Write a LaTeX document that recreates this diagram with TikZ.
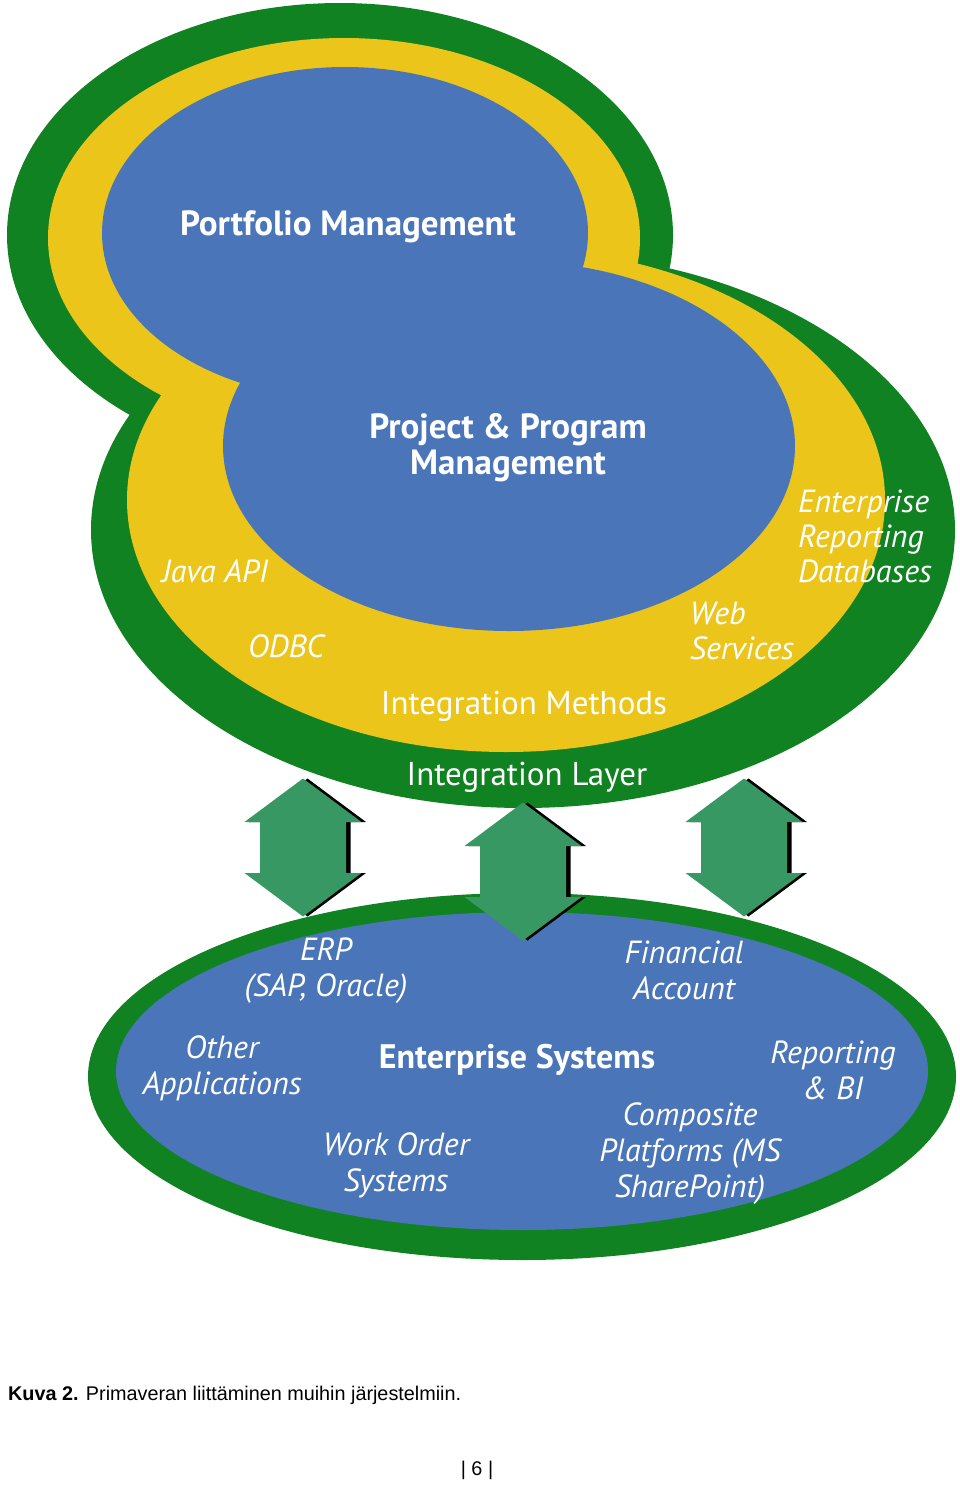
\documentclass[tikz,border=0pt]{standalone}
\usepackage{fontspec}
\setmainfont{PT Sans}
\newfontfamily\capfont{Liberation Sans}
\usetikzlibrary{positioning}

\definecolor{ringgreen}{RGB}{16,130,34}
\definecolor{ringyellow}{RGB}{236,197,26}
\definecolor{coreblue}{RGB}{74,118,185}
\definecolor{arrowgreen}{RGB}{56,152,100}

\tikzset{
  title/.style={text=white, font=\bfseries\fontsize{35}{36}\selectfont, align=center, inner sep=0pt},
  band/.style={text=white, font=\fontsize{33}{34}\selectfont, inner sep=0pt},
  method/.style={text=white, font=\itshape\fontsize{32}{35}\selectfont, inner sep=0pt},
  system/.style={text=white, font=\itshape\fontsize{32}{36}\selectfont, align=center, inner sep=0pt},
  linkarrow/.pic={
    \fill[black, xshift=4.5pt] (0,-69) -- (58.5,-25.5) -- (43,-25.5) -- (43,25.5) -- (58.5,25.5)
      -- (0,69) -- (-58.5,25.5) -- (-43,25.5) -- (-43,-25.5) -- (-58.5,-25.5) -- cycle;
    \fill[arrowgreen] (0,-69) -- (58.5,-25.5) -- (43,-25.5) -- (43,25.5) -- (58.5,25.5)
      -- (0,69) -- (-58.5,25.5) -- (-43,25.5) -- (-43,-25.5) -- (-58.5,-25.5) -- cycle;
  }
}

\begin{document}
\begin{tikzpicture}[x=1pt,y=-1pt]
  \useasboundingbox (0,0) rectangle (960,1486);

  % integration layer (outer ring)
  \fill[ringgreen] (340,235) ellipse [x radius=333pt, y radius=232pt];
  \fill[ringgreen] (523,530) ellipse [x radius=432pt, y radius=278pt];
  % integration methods
  \fill[ringyellow] (344,238) ellipse [x radius=296pt, y radius=200pt];
  \fill[ringyellow] (506,500) ellipse [x radius=379pt, y radius=252pt];
  % portfolio / project cores
  \fill[coreblue] (345,233) ellipse [x radius=243pt, y radius=166pt];
  \fill[coreblue] (509,446) ellipse [x radius=286pt, y radius=185pt];

  % enterprise systems
  \fill[ringgreen] (522,1076.5) ellipse [x radius=434pt, y radius=183.5pt];
  \fill[coreblue] (522,1071) ellipse [x radius=406pt, y radius=159pt];

  % links between the layers
  \pic (linkleft) at (303,847.5) {linkarrow};
  \pic (linkmid) at (523,871.5) {linkarrow};
  \pic (linkright) at (744,847.5) {linkarrow};

  \node[title] (portfolio) at (348,227) {Portfolio Management};
  \node[title] (project) at (508,448) {Project \& Program\\Management};

  \node[method] (javaapi) at (215,571) {Java API};
  \node[method] (odbc) at (286,646) {ODBC};
  \node[method, align=left] (websvc) at (742,631) {Web\\Services};
  \node[method, align=left] (erdb) at (865,536) {Enterprise\\Reporting\\Databases};
  \node[band] (methods) at (524,706) {Integration Methods};
  \node[band] (layer) at (527,777) {Integration Layer};

  \node[system] (erp) at (326,971) {ERP\\(SAP, Oracle)};
  \node[system] (financial) at (684,970) {Financial\\Account};
  \node[system] (otherapps) at (222,1068) {Other\\Applications};
  \node[title, font=\bfseries\fontsize{34}{36}\selectfont] (entsys) at (517,1060) {Enterprise Systems};
  \node[system] (reportbi) at (833,1070) {Reporting\\\& BI};
  \node[system] (workorder) at (396,1165) {Work Order\\Systems};
  \node[system] (composite) at (690,1154) {Composite\\Platforms (MS\\SharePoint)};

  \node[anchor=west, inner sep=0pt, font=\capfont\fontsize{19.8}{24}\selectfont] (caption) at (8,1395)
    {\textbf{Kuva 2.} Primaveran liittäminen muihin järjestelmiin.};
  \node[inner sep=0pt, font=\capfont\fontsize{19.8}{24}\selectfont] (pagenum) at (477,1470) {| 6 |};
\end{tikzpicture}
\end{document}
